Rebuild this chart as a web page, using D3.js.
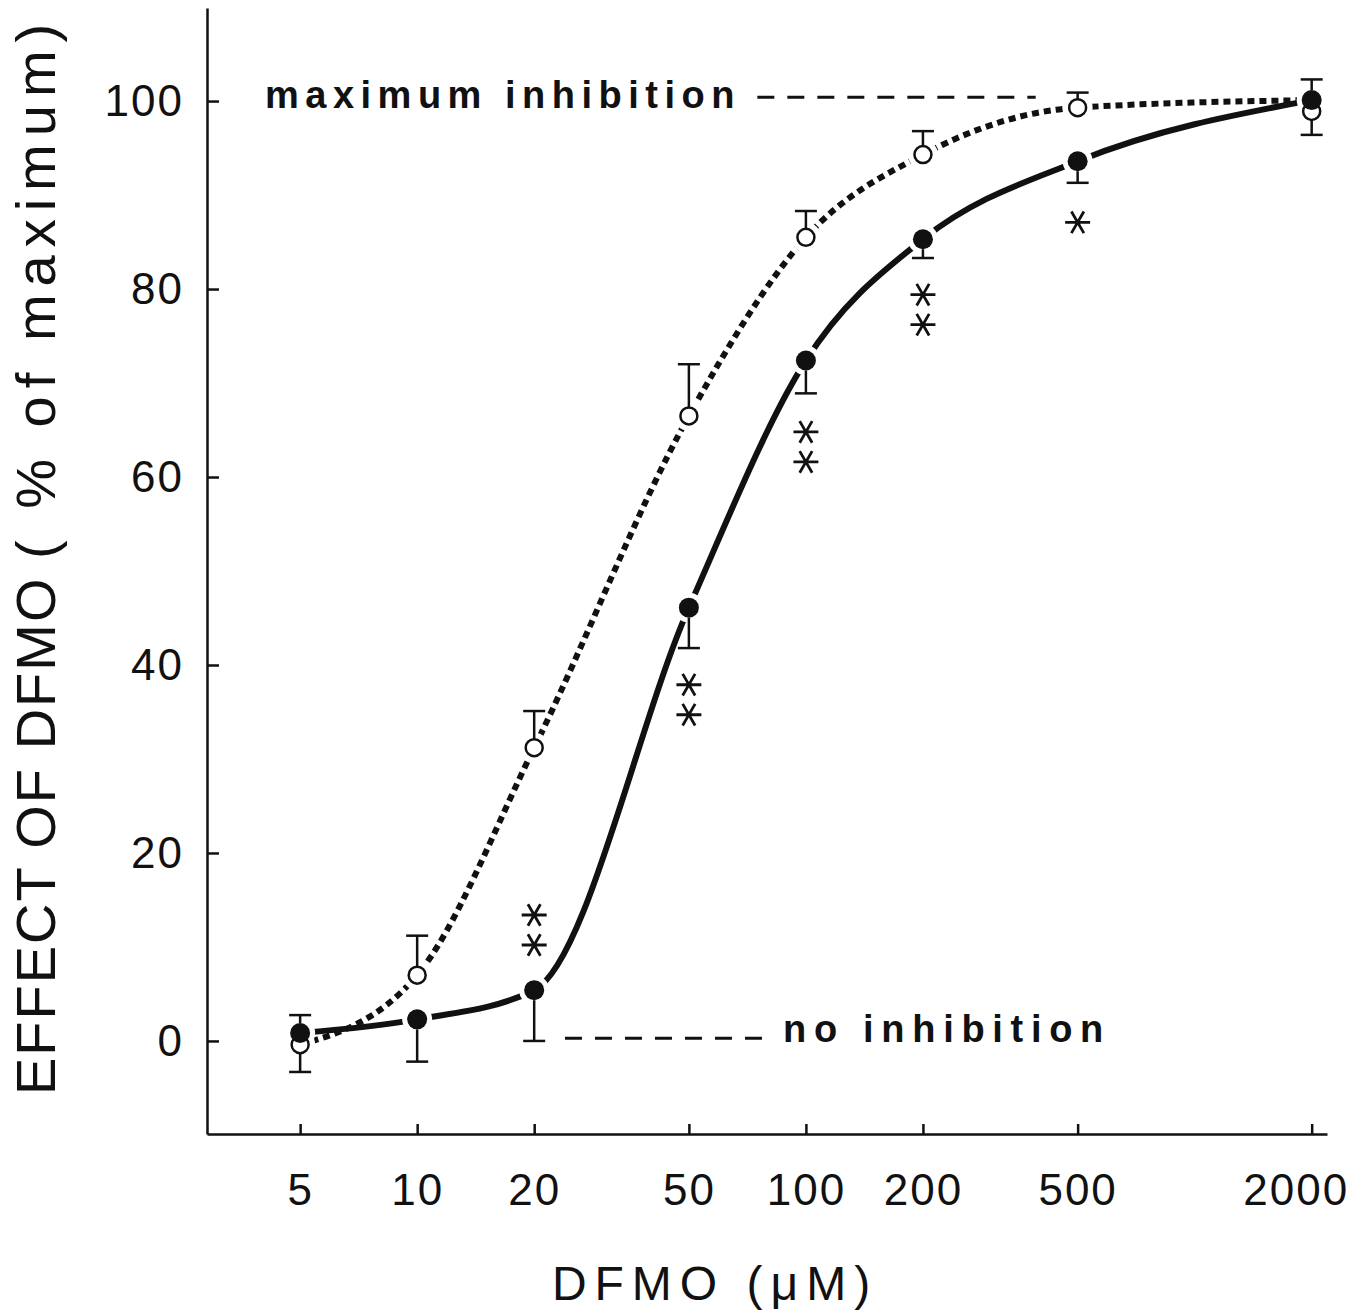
<!DOCTYPE html>
<html>
<head>
<meta charset="utf-8">
<script src="https://cdn.jsdelivr.net/npm/d3@7"></script>
<style>
  body { margin: 0; background: #fff; }
  svg { display: block; }
  text { font-family: "Liberation Sans", Arial, sans-serif; fill: #111; }
</style>
</head>
<body>
<svg id="chart" width="1363" height="1315"></svg>
<script>
// doses in µM (log axis)
const doses = [5, 10, 20, 50, 100, 200, 500, 2000];

// open circles, dotted curve
const openMean = [-0.4, 7.0, 31.2, 66.5, 85.5, 94.3, 99.3, 98.9];
const openSem = [2.9, 4.2, 3.9, 5.5, 2.8, 2.5, 1.6, 2.5];
const openDir = [-1, 1, 1, 1, 1, 1, 1, -1];

// filled circles, solid curve
const filledMean = [0.85, 2.3, 5.4, 46.1, 72.4, 85.3, 93.6, 100.1];
const filledSem = [1.9, 4.5, 5.4, 4.3, 3.5, 2.0, 2.3, 2.2];
const filledDir = [1, -1, -1, -1, -1, -1, -1, 1];

// significance marks (asterisks)
const starDoses = [20, 50, 100, 200, 500];
const starCount = [2, 2, 2, 2, 1];
const starTop = [13.4, 37.9, 64.8, 79.4, 87.1];

const yTicks = [0, 20, 40, 60, 80, 100];

// reference lines (value, dose range)
const refLabels = ["maximum inhibition", "no inhibition"];
const refValues = [100.4, 0.3];
const refFrom = [75, 24];
const refTo = [390, 78];

const svg = d3.select("#chart");

const x = d3.scaleLog().domain([2.88, 2190]).range([207, 1327]);
const y = d3.scaleLinear().domain([-9.9, 109.9]).range([1134, 8]);

// axes
const yAxis = svg.append("g")
    .attr("transform", `translate(${x.range()[0]},0)`)
    .call(d3.axisLeft(y).tickValues(yTicks).tickSizeInner(-12).tickSizeOuter(0).tickPadding(23));
const xAxis = svg.append("g")
    .attr("transform", `translate(0,${y.range()[0]})`)
    .call(d3.axisBottom(x).tickValues(doses).tickFormat(d3.format("d")).tickSizeInner(-10).tickSizeOuter(0).tickPadding(40));

[yAxis, xAxis].forEach(g => {
    g.select(".domain").attr("stroke", "#111").attr("stroke-width", 2.5);
    g.selectAll(".tick line").attr("stroke", "#111").attr("stroke-width", 2.5);
    g.selectAll(".tick text")
        .attr("fill", "#111")
        .style("font-size", "44px")
        .style("letter-spacing", "2px")
        .style("font-family", '"Liberation Sans", Arial, sans-serif');
});
// last label sits a little left of its tick in the original
xAxis.selectAll(".tick text").filter(d => d === 2000).attr("dx", -16);

// axis titles
const yTitle = svg.append("text")
    .attr("transform", "translate(55,1095) rotate(-90)")
    .attr("text-anchor", "start");
yTitle.append("tspan")
    .style("font-size", "56px")
    .style("letter-spacing", "2px")
    .text("EFFECT OF DFMO ");
yTitle.append("tspan")
    .style("font-size", "56px")
    .style("letter-spacing", "8px")
    .text("( % of maximum)");

svg.append("text")
    .attr("x", 715)
    .attr("y", 1300)
    .attr("text-anchor", "middle")
    .style("font-size", "48px")
    .style("letter-spacing", "8px")
    .text("DFMO (\u03bcM)");

// reference lines and labels
refValues.forEach((v, i) => {
    svg.append("line")
        .attr("x1", x(refFrom[i])).attr("x2", x(refTo[i]))
        .attr("y1", y(v)).attr("y2", y(v))
        .attr("stroke", "#111")
        .attr("stroke-width", 3)
        .attr("stroke-dasharray", "17 13");
});
svg.append("text")
    .attr("x", 265).attr("y", y(refValues[0]) + 11)
    .style("font-size", "38px").style("font-weight", "bold").style("letter-spacing", "6.5px")
    .text(refLabels[0]);
svg.append("text")
    .attr("x", 783).attr("y", y(refValues[1]) + 4)
    .style("font-size", "38px").style("font-weight", "bold").style("letter-spacing", "7.7px")
    .text(refLabels[1]);

// curves
const openPts = doses.map((d, i) => [x(d), y(openMean[i])]);
const filledPts = doses.map((d, i) => [x(d), y(filledMean[i])]);
const line = d3.line().curve(d3.curveMonotoneX);

svg.append("path")
    .attr("d", line(openPts.slice(0, 7).concat([filledPts[7]])))
    .attr("fill", "none")
    .attr("stroke", "#111")
    .attr("stroke-width", 6)
    .attr("stroke-dasharray", "7 5");

svg.append("path")
    .attr("d", line(filledPts))
    .attr("fill", "none")
    .attr("stroke", "#111")
    .attr("stroke-width", 6);

// white halos so curves stop short of markers
const rOpen = 8.5, rFilled = 10;
svg.append("g").selectAll("circle")
    .data(openPts.concat(filledPts))
    .join("circle")
    .attr("cx", d => d[0]).attr("cy", d => d[1])
    .attr("r", 15)
    .attr("fill", "#fff");

// error bars
function errorBars(mean, sem, dir, r) {
    const g = svg.append("g").attr("stroke", "#111").attr("stroke-width", 2.5);
    doses.forEach((d, i) => {
        const cx = x(d);
        const y0 = y(mean[i]) - dir[i] * r;
        const y1 = y(mean[i] + dir[i] * sem[i]);
        g.append("line").attr("x1", cx).attr("x2", cx).attr("y1", y0).attr("y2", y1);
        g.append("line").attr("x1", cx - 11).attr("x2", cx + 11).attr("y1", y1).attr("y2", y1);
    });
}
errorBars(openMean, openSem, openDir, rOpen);
errorBars(filledMean, filledSem, filledDir, rFilled);

// markers
svg.append("g").selectAll("circle")
    .data(openPts)
    .join("circle")
    .attr("cx", d => d[0]).attr("cy", d => d[1])
    .attr("r", rOpen)
    .attr("fill", "#fff")
    .attr("stroke", "#111")
    .attr("stroke-width", 2.5);

svg.append("g").selectAll("circle")
    .data(filledPts)
    .join("circle")
    .attr("cx", d => d[0]).attr("cy", d => d[1])
    .attr("r", rFilled)
    .attr("fill", "#111");

// asterisks, stacked 30px apart
const star = d3.symbol().type(d3.symbolAsterisk).size(440);
const stars = [];
starDoses.forEach((d, i) => {
    for (let k = 0; k < starCount[i]; k++) stars.push({ dose: d, top: starTop[i], k });
});
svg.append("g").selectAll("path")
    .data(stars)
    .join("path")
    .attr("transform", s => `translate(${x(s.dose)},${y(s.top) + s.k * 30}) rotate(90)`)
    .attr("d", star)
    .attr("fill", "none")
    .attr("stroke", "#111")
    .attr("stroke-width", 2.8);
</script>
</body>
</html>
